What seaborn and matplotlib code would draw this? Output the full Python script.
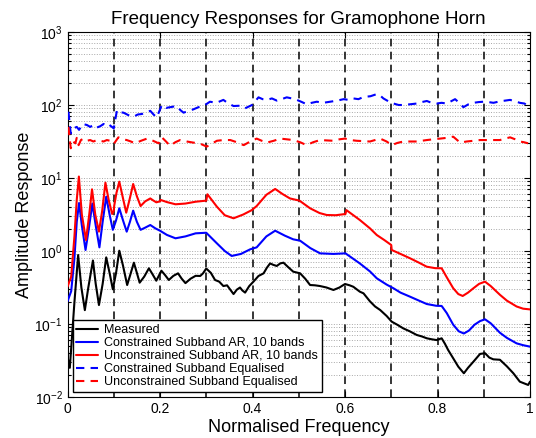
import numpy as np
import matplotlib
matplotlib.use("Agg")
import matplotlib.pyplot as plt
import seaborn as sns

# values, stored as log10(amplitude)
measured_x = [0.000, 0.005, 0.015, 0.023, 0.030, 0.0375, 0.045, 0.055, 0.061, 0.068,
              0.076, 0.0837, 0.091, 0.098, 0.105, 0.112, 0.120, 0.129, 0.136, 0.1435,
              0.150, 0.156, 0.166, 0.176, 0.184, 0.192, 0.203, 0.211, 0.219, 0.229,
              0.239, 0.247, 0.255, 0.266, 0.277, 0.287, 0.293, 0.300, 0.310, 0.319,
              0.328, 0.337, 0.345, 0.352, 0.359, 0.366, 0.373, 0.378, 0.384, 0.393,
              0.402, 0.413, 0.424, 0.431, 0.438, 0.445, 0.4525, 0.460, 0.467, 0.477,
              0.488, 0.503, 0.514, 0.5245, 0.535, 0.546, 0.560, 0.575, 0.588, 0.600,
              0.610, 0.618, 0.632, 0.640, 0.654, 0.665, 0.676, 0.690, 0.701, 0.713,
              0.726, 0.740, 0.755, 0.766, 0.777, 0.788, 0.798, 0.809, 0.816, 0.823,
              0.834, 0.845, 0.857, 0.866, 0.8777, 0.892, 0.9027, 0.912, 0.9207, 0.935,
              0.950, 0.964, 0.978, 0.990, 0.996, 1.000]
measured_log10 = [-1.45, -1.60, -0.70, -0.055, -0.50, -0.81, -0.50, -0.13, -0.45, -0.74,
                  -0.45, -0.087, -0.30, -0.525, -0.30, 0.004, -0.20, -0.466, -0.32, -0.16,
                  -0.30, -0.434, -0.35, -0.237, -0.32, -0.407, -0.27, -0.33, -0.397, -0.34,
                  -0.306, -0.38, -0.44, -0.38, -0.34, -0.342, -0.306, -0.24, -0.30, -0.397,
                  -0.42, -0.48, -0.47, -0.53, -0.59, -0.53, -0.50, -0.54, -0.57, -0.48,
                  -0.42, -0.342, -0.306, -0.23, -0.17, -0.19, -0.205, -0.17, -0.16, -0.22,
                  -0.283, -0.306, -0.38, -0.466, -0.47, -0.48, -0.50, -0.534, -0.50, -0.452,
                  -0.47, -0.49, -0.557, -0.58, -0.69, -0.76, -0.808, -0.89, -0.968, -1.01,
                  -1.06, -1.10, -1.15, -1.17, -1.196, -1.21, -1.22, -1.196, -1.27, -1.356,
                  -1.47, -1.585, -1.675, -1.60, -1.516, -1.41, -1.40, -1.46, -1.484, -1.49,
                  -1.58, -1.675, -1.79, -1.82, -1.835, -1.79]

con_ar_x = [0.000, 0.008, 0.015, 0.020, 0.025, 0.031, 0.039, 0.046, 0.0537, 0.061,
            0.069, 0.076, 0.0837, 0.091, 0.098, 0.105, 0.112, 0.120, 0.128, 0.135,
            0.142, 0.150, 0.158, 0.168, 0.179, 0.190, 0.200, 0.215, 0.2335, 0.255,
            0.277, 0.300, 0.323, 0.340, 0.355, 0.375, 0.395, 0.409, 0.430, 0.449,
            0.470, 0.488, 0.503, 0.525, 0.546, 0.575, 0.601, 0.632, 0.654, 0.6687,
            0.690, 0.7046, 0.720, 0.7407, 0.760, 0.7767, 0.797, 0.809, 0.820, 0.834,
            0.846, 0.857, 0.868, 0.880, 0.892, 0.9027, 0.915, 0.935, 0.950, 0.971,
            0.985, 1.000]
con_ar_log10 = [-0.69, -0.55, -0.10, 0.40, 0.657, 0.35, 0.014, 0.30, 0.65, 0.35,
                0.05, 0.40, 0.744, 0.50, 0.29, 0.42, 0.585, 0.42, 0.265, 0.40,
                0.553, 0.40, 0.29, 0.32, 0.356, 0.31, 0.278, 0.22, 0.174, 0.20,
                0.242, 0.25, 0.105, 0.00, -0.068, -0.04, 0.023, 0.05, 0.20, 0.278,
                0.21, 0.16, 0.141, 0.04, -0.032, -0.04, -0.032, -0.17, -0.28, -0.374,
                -0.46, -0.51, -0.57, -0.626, -0.68, -0.726, -0.75, -0.753, -0.85, -1.01,
                -1.10, -1.13, -1.09, -1.01, -0.96, -0.936, -0.99, -1.12, -1.19, -1.265,
                -1.29, -1.31]

unc_ar_x = [0.000, 0.008, 0.015, 0.020, 0.0246, 0.031, 0.040, 0.047, 0.053, 0.060,
            0.068, 0.075, 0.082, 0.089, 0.0966, 0.100, 0.101, 0.106, 0.112, 0.119,
            0.127, 0.134, 0.142, 0.150, 0.158, 0.168, 0.179, 0.186, 0.192, 0.200,
            0.201, 0.215, 0.2335, 0.255, 0.277, 0.300, 0.3025, 0.313, 0.323, 0.340,
            0.359, 0.380, 0.3985, 0.409, 0.430, 0.449, 0.465, 0.481, 0.5015, 0.5245,
            0.545, 0.5606, 0.580, 0.601, 0.603, 0.632, 0.654, 0.6687, 0.685, 0.700,
            0.701, 0.720, 0.7407, 0.760, 0.7767, 0.795, 0.809, 0.820, 0.834, 0.845,
            0.8545, 0.866, 0.8777, 0.890, 0.9027, 0.915, 0.935, 0.950, 0.971, 0.985,
            1.000]
unc_ar_log10 = [-0.49, -0.35, 0.20, 0.70, 1.02, 0.50, 0.15, 0.50, 0.845, 0.50,
                0.265, 0.55, 0.936, 0.70, 0.507, 0.55, 0.62, 0.80, 0.95, 0.75,
                0.525, 0.70, 0.918, 0.75, 0.616, 0.68, 0.72, 0.69, 0.667, 0.68,
                0.70, 0.67, 0.64, 0.65, 0.675, 0.69, 0.777, 0.69, 0.607, 0.49,
                0.448, 0.50, 0.56, 0.616, 0.77, 0.85, 0.78, 0.72, 0.69, 0.585,
                0.52, 0.493, 0.49, 0.507, 0.56, 0.425, 0.31, 0.219, 0.15, 0.082,
                0.014, -0.04, -0.10, -0.16, -0.215, -0.235, -0.237, -0.36, -0.51, -0.59,
                -0.616, -0.57, -0.51, -0.45, -0.42, -0.48, -0.60, -0.68, -0.76, -0.79,
                -0.80]

con_eq_x = [0.002, 0.007, 0.013, 0.020, 0.025, 0.033, 0.042, 0.049, 0.056, 0.063,
            0.071, 0.078, 0.085, 0.090, 0.096, 0.100, 0.107, 0.114, 0.121, 0.132,
            0.143, 0.152, 0.161, 0.170, 0.179, 0.186, 0.193, 0.204, 0.213, 0.222,
            0.236, 0.244, 0.251, 0.262, 0.272, 0.283, 0.294, 0.308, 0.322, 0.337,
            0.348, 0.359, 0.372, 0.384, 0.399, 0.413, 0.422, 0.431, 0.442, 0.4525,
            0.463, 0.474, 0.485, 0.496, 0.507, 0.517, 0.528, 0.539, 0.553, 0.568,
            0.583, 0.597, 0.608, 0.618, 0.629, 0.640, 0.655, 0.669, 0.676, 0.683,
            0.694, 0.705, 0.716, 0.726, 0.741, 0.755, 0.766, 0.777, 0.787, 0.798,
            0.809, 0.820, 0.829, 0.838, 0.847, 0.856, 0.867, 0.878, 0.889, 0.899,
            0.910, 0.921, 0.935, 0.946, 0.957, 0.968, 0.978, 0.988, 0.996]
con_eq_log10 = [1.908, 1.61, 1.68, 1.70, 1.66, 1.74, 1.726, 1.70, 1.726, 1.69,
                1.71, 1.74, 1.71, 1.73, 1.70, 1.68, 1.93, 1.90, 1.895, 1.86,
                1.84, 1.87, 1.877, 1.90, 1.92, 1.87, 1.83, 2.00, 1.96, 1.97,
                1.986, 1.93, 1.895, 1.92, 1.94, 1.97, 1.986, 2.045, 2.03, 2.07,
                2.02, 1.986, 1.99, 1.955, 2.00, 2.105, 2.08, 2.07, 2.09, 2.06,
                2.08, 2.105, 2.09, 2.07, 2.04, 2.01, 2.03, 2.045, 2.03, 2.045,
                2.06, 2.08, 2.07, 2.09, 2.08, 2.11, 2.12, 2.15, 2.13, 2.09,
                2.05, 2.02, 2.00, 2.00, 2.01, 2.02, 2.04, 2.055, 2.03, 2.02,
                2.03, 2.02, 2.05, 2.08, 2.03, 1.97, 2.01, 2.03, 2.04, 2.045,
                2.04, 2.03, 2.05, 2.06, 2.07, 2.05, 2.03, 2.02, 1.986]

unc_eq_x = [0.002, 0.007, 0.012, 0.017, 0.020, 0.024, 0.029, 0.035, 0.042, 0.049,
            0.056, 0.0635, 0.071, 0.078, 0.085, 0.092, 0.100, 0.110, 0.119, 0.128,
            0.137, 0.146, 0.159, 0.172, 0.185, 0.197, 0.204, 0.213, 0.222, 0.233,
            0.2436, 0.258, 0.272, 0.287, 0.301, 0.312, 0.323, 0.337, 0.352, 0.366,
            0.381, 0.395, 0.409, 0.420, 0.431, 0.446, 0.460, 0.474, 0.488, 0.503,
            0.517, 0.531, 0.546, 0.560, 0.575, 0.588, 0.600, 0.612, 0.625, 0.640,
            0.654, 0.665, 0.676, 0.690, 0.701, 0.713, 0.726, 0.740, 0.755, 0.766,
            0.777, 0.791, 0.806, 0.820, 0.834, 0.849, 0.863, 0.878, 0.892, 0.906,
            0.921, 0.935, 0.946, 0.957, 0.968, 0.978, 0.987, 0.996]
unc_eq_log10 = [1.70, 1.407, 1.50, 1.475, 1.55, 1.45, 1.52, 1.54, 1.51, 1.52,
                1.50, 1.52, 1.51, 1.50, 1.52, 1.51, 1.466, 1.557, 1.53, 1.52,
                1.50, 1.475, 1.51, 1.54, 1.51, 1.475, 1.557, 1.50, 1.44, 1.49,
                1.52, 1.50, 1.485, 1.47, 1.43, 1.47, 1.51, 1.52, 1.52, 1.49,
                1.45, 1.50, 1.54, 1.51, 1.485, 1.51, 1.54, 1.53, 1.52, 1.49,
                1.45, 1.49, 1.52, 1.515, 1.51, 1.53, 1.54, 1.52, 1.51, 1.505,
                1.50, 1.52, 1.54, 1.50, 1.45, 1.48, 1.50, 1.50, 1.50, 1.51,
                1.52, 1.53, 1.54, 1.55, 1.566, 1.485, 1.50, 1.51, 1.52, 1.52,
                1.52, 1.52, 1.54, 1.557, 1.53, 1.50, 1.49, 1.475]

band_edges = [0.1, 0.2, 0.3, 0.4, 0.5, 0.6, 0.7, 0.8, 0.9]
x_ticks = [0, 0.2, 0.4, 0.6, 0.8, 1]
x_tick_labels = ["0", "0.2", "0.4", "0.6", "0.8", "1"]

sns.set_style("ticks")
plt.rcParams["font.family"] = ["Liberation Sans", "DejaVu Sans"]
plt.rcParams["mathtext.fontset"] = "custom"
plt.rcParams["mathtext.rm"] = "Liberation Sans"
plt.rcParams["mathtext.it"] = "Liberation Sans:italic"
plt.rcParams["mathtext.bf"] = "Liberation Sans:bold"
for key in ["text.color", "axes.labelcolor", "xtick.color", "ytick.color"]:
    plt.rcParams[key] = "black"

fig = plt.figure(figsize=(5.36, 4.38), dpi=100)
ax = fig.add_axes([67.5 / 536, 1 - 397 / 438, 462.5 / 536, 365 / 438])

# subband boundaries
for edge in band_edges:
    ax.axvline(edge, color="black", lw=1.1, linestyle=(0, (5, 3.5)), zorder=1)

series = [
    (measured_x, measured_log10, "black", "-", "Measured"),
    (con_ar_x, con_ar_log10, "blue", "-", "Constrained Subband AR, 10 bands"),
    (unc_ar_x, unc_ar_log10, "red", "-", "Unconstrained Subband AR, 10 bands"),
    (con_eq_x, con_eq_log10, "blue", (0, (4, 3)), "Constrained Subband Equalised"),
    (unc_eq_x, unc_eq_log10, "red", (0, (4, 3)), "Unconstrained Subband Equalised"),
]
for xs, ys, col, ls, lab in series:
    sns.lineplot(x=np.array(xs), y=np.power(10.0, ys), ax=ax, color=col,
                 linestyle=ls, lw=1.5, label=lab, sort=False, estimator=None, zorder=3)

ax.set_yscale("log")
ax.set_xlim(0, 1)
ax.set_ylim(1e-2, 1e3)
ax.set_xticks(x_ticks)
ax.set_xticklabels(x_tick_labels)
ax.grid(True, which="both", axis="y", linestyle=":", color="#a8a8a8", lw=0.7)
ax.tick_params(which="both", direction="in", top=True, right=True, labelsize=10, width=0.8)
ax.tick_params(which="major", length=4)
ax.tick_params(which="minor", length=2)
for sp in ax.spines.values():
    sp.set_linewidth(0.8)
    sp.set_color("black")

ax.set_title("Frequency Responses for Gramophone Horn", fontsize=13.5, pad=6)
ax.set_xlabel("Normalised Frequency", fontsize=13, labelpad=2)
ax.set_ylabel("Amplitude Response", fontsize=13, labelpad=1)

leg = ax.legend(loc="lower left", bbox_to_anchor=(0.011, 0.0145), borderaxespad=0,
                fontsize=9, handlelength=1.7, labelspacing=0.08, borderpad=0.3,
                handletextpad=0.55, fancybox=False, framealpha=1, edgecolor="black")
leg.get_frame().set_linewidth(1.0)

fig.savefig("out.png", dpi=100)
